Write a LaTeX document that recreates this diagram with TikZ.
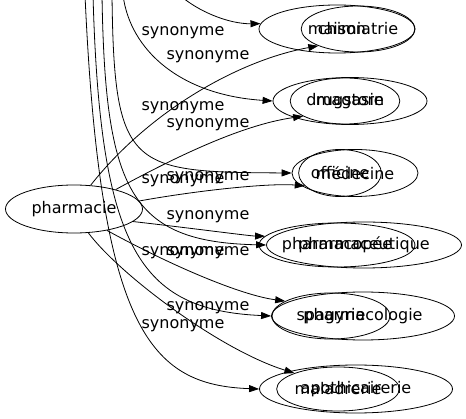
\documentclass[tikz,border=0pt]{standalone}
\usepackage{fontspec}
\setmainfont{DejaVu Sans}
\usetikzlibrary{shapes.geometric, arrows.meta}

\begin{document}
\begin{tikzpicture}[x=1pt, y=-1pt, line width=0.8pt,
                    every node/.style={font=\fontsize{16}{19}\selectfont, inner sep=0pt},
                    word/.style={ellipse, draw},
                    syn/.style={-{Triangle[length=10pt, width=7pt]}}]
                    \useasboundingbox (0,0) rectangle (466,419);
                    \clip (0,0) rectangle (466,419);

                    \node[word, minimum width=137pt, minimum height=48pt] (pharmacie) at (74,209) {pharmacie};

                    \node[word, minimum width=156pt, minimum height=48pt] (maison) at (337,29) {maison};
                    \node[word, minimum width=97pt, minimum height=46pt] (chimiatrie) at (358,29) {chimiatrie};
                    \node[word, minimum width=154pt, minimum height=47pt] (magasin) at (350,101) {magasin};
                    \node[word, minimum width=90pt, minimum height=46pt] (drugstore) at (345,101) {drugstore};
                    \node[word, minimum width=126pt, minimum height=47pt] (medecine) at (355,173) {médecine};
                    \node[word, minimum width=65pt, minimum height=47pt] (officine) at (340,173) {officine};
                    \node[word, minimum width=195pt, minimum height=46pt] (pharmaceutique) at (364,245) {pharmaceutique};
                    \node[word, minimum width=115pt, minimum height=44pt] (pharmacopee) at (337,245) {pharmacopée};
                    \node[word, minimum width=183pt, minimum height=48pt] (pharmacologie) at (363,316) {pharmacologie};
                    \node[word, minimum width=118pt, minimum height=46pt] (spagyrie) at (331,316) {spagyrie};
                    \node[word, minimum width=193pt, minimum height=48pt] (apothicairerie) at (356,389) {apothicairerie};
                    \node[word, minimum width=119pt, minimum height=44pt] (maladrerie) at (338,389) {maladrerie};

                    \foreach \y [count=\i] in {33,108,181,253,326} {
                        \node (synA\i) at (183,\y) {synonyme};
                    }
                    \foreach \y [count=\i] in {57,125,178,217,253,308} {
                        \node (synB\i) at (208,\y) {synonyme};
                    }

                    \coordinate (a1) at (172,-12);
                    \coordinate (a2) at (123,-5);
                    \coordinate (a3) at (112,-5);
                    \coordinate (a4) at (102,-5);
                    \coordinate (a5) at (93,-5);
                    \coordinate (a6) at (85,-5);

                    \draw[syn] (a1) .. controls (195,12) and (230,24) .. (maison.176);
                    \draw[syn] (a2) .. controls (130,50) and (180,95) .. (magasin.west);
                    \draw[syn] (a3) .. controls (114,170) and (130,172) .. (medecine.west);
                    \draw[syn] (a4) .. controls (105,190) and (130,242) .. (pharmaceutique.west);
                    \draw[syn] (a5) .. controls (100,250) and (140,310) .. (pharmacologie.west);
                    \draw[syn] (a6) .. controls (100,330) and (150,385) .. (apothicairerie.west);

                    \draw[syn] (pharmacie.55) .. controls (150,110) and (240,60) .. (chimiatrie.203);
                    \draw[syn] (pharmacie.25) .. controls (170,160) and (240,125) .. (drugstore.200);
                    \draw[syn] (pharmacie.7) .. controls (200,190) and (270,183) .. (officine.200);
                    \draw[syn] (pharmacie.-12) .. controls (190,228) and (250,236) .. (pharmacopee.173);
                    \draw[syn] (pharmacie.-33) .. controls (170,265) and (240,295) .. (spagyrie.162);
                    \draw[syn] (pharmacie.-59) .. controls (120,275) and (220,350) .. (maladrerie.160);
                \end{tikzpicture}
\end{document}
